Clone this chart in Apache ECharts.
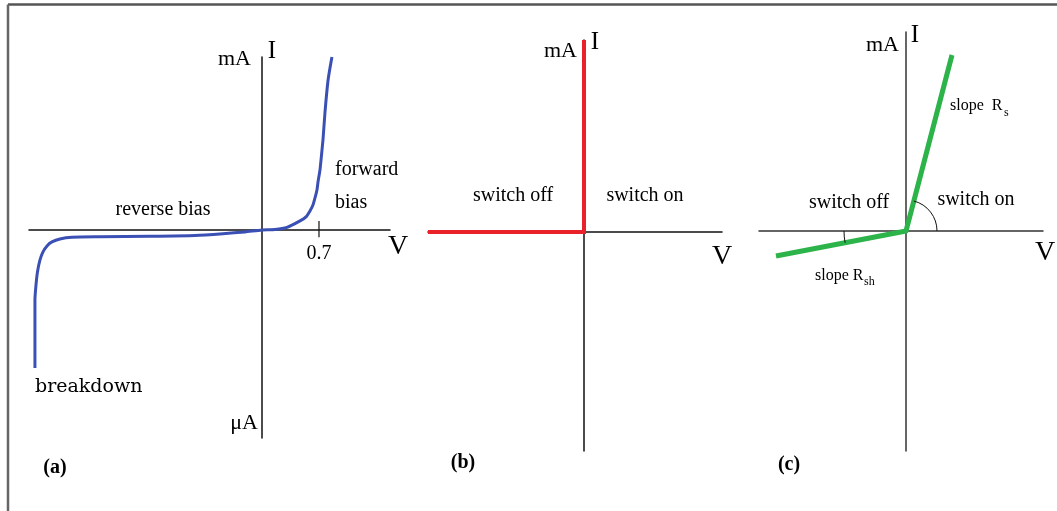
<!DOCTYPE html>
<html>
<head>
<meta charset="utf-8">
<script src="https://cdn.jsdelivr.net/npm/echarts@6/dist/echarts.min.js"></script>
<style>
html,body{margin:0;padding:0;background:#fff;}
#c{width:1057px;height:511px;}
</style>
</head>
<body>
<div id="c"></div>
<script>
// ---- Panel (a): diode I-V curve (V in volts, I in arbitrary units) ----
const diodeV = [-2.788,-2.788,-2.788,-2.775,-2.757,-2.726,-2.689,-2.640,-2.579,-2.481,-2.333,-1.989,-1.375,-0.823,-0.479,-0.209,0,0.160,0.307,0.467,0.540,0.589,0.626,0.651,0.675,0.688,0.712,0.731,0.749,0.774,0.810,0.835,0.859];
const diodeI = [-79.7,-57.7,-40.4,-31.75,-24.25,-17.32,-12.70,-9.24,-6.93,-5.20,-4.21,-3.93,-3.64,-3.18,-2.19,-1.15,0,0.23,1.44,5.20,7.51,10.97,14.43,18.48,23.09,27.71,34.64,43.30,51.96,68.13,86.03,93.53,99.9];
const kneeTick = [0.7];
const kneeTickLabels = ['0.7'];
// ---- Panel (b): ideal switch ----
const switchV = [-1.56, 0, 0];
const switchI = [0, 0, 1.92];
// ---- Panel (c): piecewise-linear model ----
const pwlV = [-1.30, 0, 0.46];
const pwlI = [-0.25, 0, 1.76];

const serif = '"Liberation Serif", "Times New Roman", serif';
const zip = (a, b) => a.map((v, i) => [v, b[i]]);

const chart = echarts.init(document.getElementById('c'), null, {renderer: 'canvas'});

function axisX(grid, min, max, color) {
  return {type: 'value', gridIndex: grid, min: min, max: max,
    axisLine: {show: true, onZero: true, lineStyle: {color: color, width: 1.5}},
    axisTick: {show: false}, axisLabel: {show: false}, splitLine: {show: false}};
}
function axisY(grid, min, max, color) {
  return {type: 'value', gridIndex: grid, min: min, max: max,
    axisLine: {show: true, onZero: true, lineStyle: {color: color, width: 1.5}},
    axisTick: {show: false}, axisLabel: {show: false}, splitLine: {show: false}};
}

function txt(text, x, y, size, align, opts) {
  opts = opts || {};
  return {type: 'text', x: x, y: y, z: 100, silent: true,
    style: {text: text, font: (opts.weight || 'normal') + ' ' + size + 'px ' + (opts.family || serif),
      fill: opts.fill || '#000', textAlign: align || 'center', textVerticalAlign: 'middle'}};
}

const option = {
  animation: false,
  backgroundColor: '#fff',
  grid: [
    {left: 29, top: 57, width: 361, height: 381},
    {left: 428, top: 40, width: 294, height: 411},
    {left: 759, top: 32, width: 284, height: 419}
  ],
  xAxis: [axisX(0, -2.861, 1.572, '#111'), axisX(1, -1.56, 1.38, '#111'), axisX(2, -1.47, 1.37, '#333')],
  yAxis: [axisY(0, -120.2, 99.9, '#111'), axisY(1, -2.19, 1.92, '#111'), axisY(2, -2.20, 1.99, '#333')],
  series: [
    {type: 'line', xAxisIndex: 0, yAxisIndex: 0, data: zip(diodeV, diodeI), smooth: 0.2,
      showSymbol: false, lineStyle: {color: '#3b50b4', width: 3, join: 'round'}, z: 5},
    {type: 'line', xAxisIndex: 0, yAxisIndex: 0, data: kneeTick.flatMap(v => [[v, 5.2], [v, -4.3], null]),
      showSymbol: false, connectNulls: false, lineStyle: {color: '#111', width: 1.2}, z: 3},
    {type: 'line', xAxisIndex: 1, yAxisIndex: 1, data: zip(switchV, switchI),
      showSymbol: false, lineStyle: {color: '#e8212b', width: 4, join: 'miter'}, z: 5},
    {type: 'line', xAxisIndex: 2, yAxisIndex: 2, data: zip(pwlV, pwlI),
      showSymbol: false, lineStyle: {color: '#2cb34a', width: 5, join: 'round'}, z: 5}
  ]
};
chart.setOption(option);

// frame + text + angle marks
const graphics = [
  {type: 'line', silent: true, z: 50, shape: {x1: 8, y1: 4.5, x2: 1057, y2: 4.5}, style: {stroke: '#555', lineWidth: 2.5}},
  {type: 'line', silent: true, z: 50, shape: {x1: 8, y1: 4.5, x2: 8, y2: 511}, style: {stroke: '#666', lineWidth: 2.5}},
  // panel (a)
  txt('mA', 251, 59, 22, 'right'),
  txt('I', 272, 51, 25, 'center'),
  txt('reverse bias', 163, 210, 20),
  txt('forward', 335, 170, 20, 'left'),
  txt('bias', 335, 203, 20, 'left'),
  txt('V', 398, 247, 28),
  txt('breakdown', 35, 387, 19, 'left', {family: '"DejaVu Serif", serif'}),
  txt('\u03bcA', 258, 423, 22, 'right'),
  txt('(a)', 55, 468, 20, 'center', {weight: 'bold'}),
  // panel (b)
  txt('mA', 577, 51, 22, 'right'),
  txt('I', 595, 42, 25, 'center'),
  txt('switch off', 513, 196, 20),
  txt('switch on', 645, 196, 20),
  txt('V', 722, 257, 28),
  txt('(b)', 463, 463, 20, 'center', {weight: 'bold'}),
  // panel (c)
  txt('mA', 899, 45, 22, 'right'),
  txt('I', 915, 35, 25, 'center'),
  txt('slope  R', 950, 106, 16, 'left'),
  txt('s', 1004, 113, 12, 'left'),
  txt('switch off', 849, 203, 20),
  txt('switch on', 976, 200, 20),
  txt('V', 1045, 253, 28),
  txt('slope R', 815, 276, 16, 'left'),
  txt('sh', 864, 282, 12, 'left'),
  txt('(c)', 789, 465, 20, 'center', {weight: 'bold'})
];

// angle arcs computed from the panel (c) segments
const o = chart.convertToPixel({gridIndex: 2}, [0, 0]);
const up = chart.convertToPixel({gridIndex: 2}, [pwlV[2], pwlI[2]]);
const dn = chart.convertToPixel({gridIndex: 2}, [pwlV[0], pwlI[0]]);
const aUp = Math.atan2(up[1] - o[1], up[0] - o[0]);
const aDn = Math.atan2(dn[1] - o[1], dn[0] - o[0]);
graphics.push({type: 'arc', silent: true, z: 60,
  shape: {cx: o[0], cy: o[1], r: 31, startAngle: aUp, endAngle: 0, clockwise: true},
  style: {stroke: '#111', lineWidth: 1, fill: null}});
graphics.push({type: 'arc', silent: true, z: 60,
  shape: {cx: o[0], cy: o[1], r: 62, startAngle: aDn, endAngle: Math.PI, clockwise: true},
  style: {stroke: '#111', lineWidth: 1, fill: null}});

// 0.7 tick label from data
kneeTick.forEach((v, i) => {
  const p = chart.convertToPixel({gridIndex: 0}, [v, 0]);
  graphics.push(txt(kneeTickLabels[i], p[0], p[1] + 24, 20));
});

chart.setOption({graphic: graphics});
</script>
</body>
</html>
